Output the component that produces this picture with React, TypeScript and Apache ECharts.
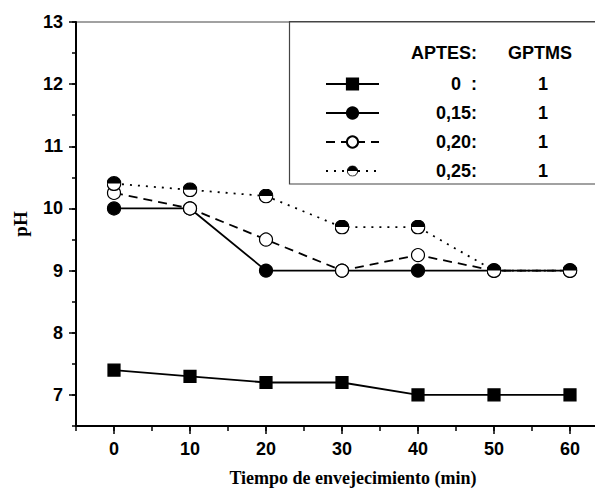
import React, { useEffect, useRef } from "react";
import * as echarts from "echarts";

const xValues = [0, 10, 20, 30, 40, 50, 60];
const ph0 = [7.4, 7.3, 7.2, 7.2, 7.0, 7.0, 7.0];
const ph015 = [10, 10, 9, 9, 9, 9, 9];
const ph020 = [10.25, 10, 9.5, 9, 9.25, 9, 9];
const ph025 = [10.4, 10.3, 10.2, 9.7, 9.7, 9, 9];
const aptes = ["0  ", "0,15", "0,20", "0,25"];
const gptms = ["1", "1", "1", "1"];
const xTickLabels = [0, 10, 20, 30, 40, 50, 60];
const yTickLabels = [7, 8, 9, 10, 11, 12, 13];

const halfSvg =
  "<svg xmlns='http://www.w3.org/2000/svg' width='26' height='26' viewBox='0 0 26 26'>" +
  "<circle cx='13' cy='13' r='11.9' fill='white' stroke='black' stroke-width='2.2'/>" +
  "<path d='M1.1 13 A11.9 11.9 0 0 1 24.9 13 Z' fill='black'/></svg>";
const halfSymbol = "image://data:image/svg+xml;charset=utf-8," + encodeURIComponent(halfSvg);

const SANS = "'Liberation Sans', Arial, sans-serif";
const SERIF = "'Liberation Serif', 'Times New Roman', serif";

export default function App() {
  const ref = useRef<HTMLDivElement>(null);
  useEffect(() => {
    if (!ref.current) return;
    const chart = echarts.init(ref.current, null, { renderer: "svg" });
    const names = aptes.map((a, i) => `${a}:${gptms[i]}`);
    const mk = (arr: number[]) => arr.map((v, i) => [xValues[i], v]);
    const seriesData = [ph0, ph015, ph020, ph025];
    const styles = [
      { symbol: "rect", size: 12, color: "#000", border: "#000", type: "solid" },
      { symbol: "circle", size: 13, color: "#000", border: "#000", type: "solid" },
      { symbol: "circle", size: 13, color: "#fff", border: "#000", type: [9, 6] },
      { symbol: halfSymbol, size: 15, color: "#000", border: "#000", type: [2, 6] },
    ];
    const option: any = {
      animation: false,
      backgroundColor: "#fff",
      grid: {
        left: 76,
        top: 22,
        bottom: 67,
        right: 4,
        outerBoundsMode: "none",
        show: true,
        borderColor: "#444",
        borderWidth: 1.2,
        backgroundColor: "transparent",
      },
      xAxis: [
        {
          type: "value",
          position: "bottom",
          min: -5,
          max: 65,
          interval: 5,
          axisLine: { show: true, onZero: false, lineStyle: { color: "#000", width: 2 } },
          axisTick: {
            show: true,
            length: 8,
            customValues: xTickLabels,
            lineStyle: { color: "#000", width: 1.5 },
          },
          axisLabel: {
            customValues: xTickLabels,
            margin: 14,
            color: "#000",
            fontFamily: SANS,
            fontWeight: "bold",
            fontSize: 18,
          },
          splitLine: { show: false },
        },
        {
          type: "value",
          position: "bottom",
          min: -5,
          max: 65,
          interval: 5,
          axisLine: { show: false, onZero: false },
          axisTick: { show: true, length: 5, lineStyle: { color: "#000", width: 1.5 } },
          axisLabel: { show: false },
          splitLine: { show: false },
        },
      ],
      yAxis: [
        {
          type: "value",
          position: "left",
          min: 6.5,
          max: 13,
          interval: 0.5,
          name: "pH",
          nameLocation: "middle",
          nameGap: 46,
          nameRotate: 90,
          nameTextStyle: {
            fontFamily: SERIF,
            fontWeight: "bold",
            fontSize: 19,
            color: "#000",
          },
          axisLine: { show: true, onZero: false, lineStyle: { color: "#000", width: 2 } },
          axisTick: {
            show: true,
            length: 7,
            customValues: yTickLabels,
            lineStyle: { color: "#000", width: 1.5 },
          },
          axisLabel: {
            customValues: yTickLabels,
            margin: 13,
            color: "#000",
            fontFamily: SANS,
            fontWeight: "bold",
            fontSize: 18,
          },
          splitLine: { show: false },
        },
        {
          type: "value",
          position: "left",
          min: 6.5,
          max: 13,
          interval: 0.5,
          axisLine: { show: false, onZero: false },
          axisTick: { show: true, length: 4, lineStyle: { color: "#000", width: 1.5 } },
          axisLabel: { show: false },
          splitLine: { show: false },
        },
      ],
      legend: {
        orient: "vertical",
        left: 320,
        top: 70,
        itemWidth: 53,
        itemHeight: 14,
        itemGap: 11,
        data: names,
        formatter: (name: string) => {
          const i = names.indexOf(name);
          return `{a|${aptes[i]}:}{b|${gptms[i]}}`;
        },
        textStyle: {
          rich: {
            a: {
              width: 93,
              align: "right",
              fontFamily: SANS,
              fontWeight: "bold",
              fontSize: 18,
              color: "#000",
              lineHeight: 14,
            },
            b: {
              width: 71,
              align: "right",
              fontFamily: SANS,
              fontWeight: "bold",
              fontSize: 18,
              color: "#000",
              lineHeight: 14,
            },
          },
        },
      },
      graphic: [
        {
          type: "rect",
          shape: { x: 289.5, y: 21.5, width: 400, height: 162.5 },
          style: { fill: "transparent", stroke: "#444", lineWidth: 1.2 },
          z: 1,
        },
        {
          type: "text",
          x: 477,
          y: 53,
          style: {
            text: "APTES:",
            align: "right",
            verticalAlign: "middle",
            font: `bold 18px ${SANS}`,
            fill: "#000",
          },
        },
        {
          type: "text",
          x: 540,
          y: 53,
          style: {
            text: "GPTMS",
            align: "center",
            verticalAlign: "middle",
            font: `bold 18px ${SANS}`,
            fill: "#000",
          },
        },
        {
          type: "text",
          x: 353,
          y: 478,
          style: {
            text: "Tiempo de envejecimiento (min)",
            align: "center",
            verticalAlign: "middle",
            font: `bold 18px ${SERIF}`,
            fill: "#000",
          },
        },
      ],
      series: seriesData.map((d, i) => ({
        name: names[i],
        type: "line",
        data: mk(d),
        symbol: styles[i].symbol,
        symbolSize: styles[i].size,
        showAllSymbol: true,
        lineStyle: { color: "#000", width: 1.8, type: styles[i].type },
        itemStyle: {
          color: styles[i].color,
          borderColor: styles[i].border,
          borderWidth: 1.2,
          opacity: 1,
        },
        emphasis: { disabled: true },
        z: 2 + i,
      })),
    };
    chart.setOption(option);
    return () => chart.dispose();
  }, []);
  return (
    <div
      style={{
        position: "fixed",
        left: 0,
        top: 0,
        width: 595,
        height: 493,
        overflow: "hidden",
        background: "#fff",
      }}
    >
      <div ref={ref} style={{ width: 612, height: 493 }} />
    </div>
  );
}
